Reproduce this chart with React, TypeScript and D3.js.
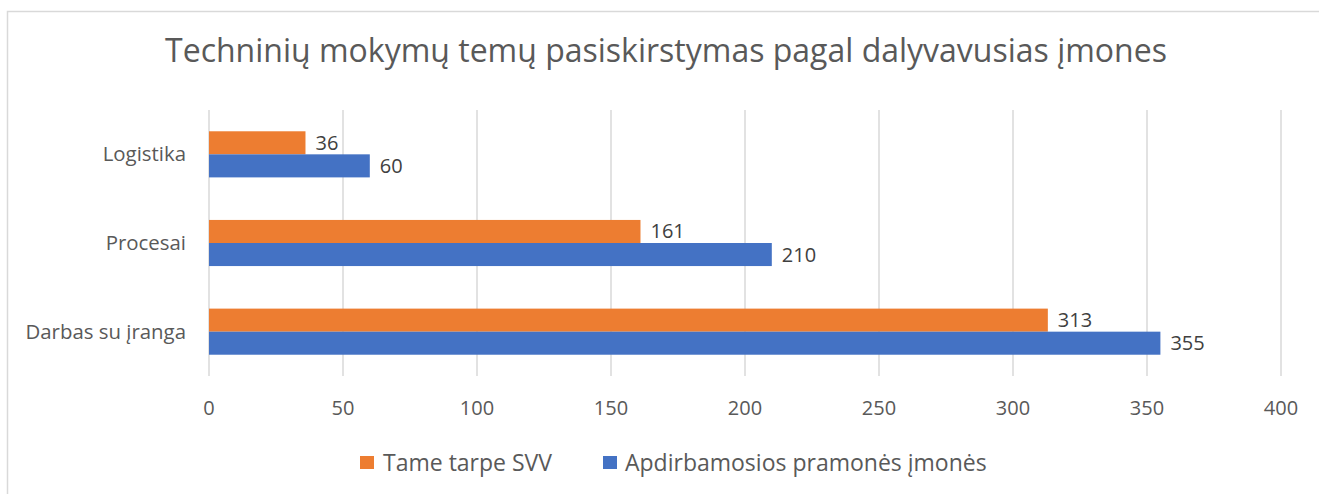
import * as d3 from 'd3';

const categories = ['Logistika', 'Procesai', 'Darbas su įranga'];
const svvValues = [36, 161, 313];
const pramoneValues = [60, 210, 355];
const seriesNames = ['Tame tarpe SVV', 'Apdirbamosios pramonės įmonės'];
const xTicks = [0, 50, 100, 150, 200, 250, 300, 350, 400];

const W = 1319;
const H = 494;
const ORANGE = '#ED7D31';
const BLUE = '#4472C4';
const TEXT = '#595959';
const GRID = '#D9D9D9';
const FONT = '"Open Sans", sans-serif';

export default function App() {
  const plot = { left: 209, right: 1281, top: 110, bottom: 376 };

  const x = d3.scaleLinear().domain([0, 400]).range([plot.left, plot.right]);
  const y = d3.scaleBand().domain(categories).range([plot.top, plot.bottom]).paddingInner(0.48).paddingOuter(0.24);
  const sub = d3.scaleBand().domain(['svv', 'pram']).range([0, y.bandwidth()]);

  const rows = categories.map((c, i) => ({ c, svv: svvValues[i], pram: pramoneValues[i] }));

  return (
    <svg width={W} height={H} style={{ position: 'absolute', left: 0, top: 0, background: '#fff' }}>
      {/* chart border */}
      <path d={`M7.5,${H} V11.5 H${W}`} fill="none" stroke={GRID} strokeWidth={1.5} />

      <text x={666} y={62} textAnchor="middle" fill={TEXT} fontSize={32} fontFamily={FONT}>
        Techninių mokymų temų pasiskirstymas pagal dalyvavusias įmones
      </text>

      {/* grid */}
      {xTicks.map((t) => (
        <line key={t} x1={x(t)} x2={x(t)} y1={plot.top} y2={plot.bottom} stroke={GRID} strokeWidth={1.5} />
      ))}

      {/* bars */}
      {rows.map((r) => {
        const y0 = y(r.c) as number;
        return (
          <g key={r.c}>
            <rect x={x(0)} y={y0 + (sub('svv') as number)} width={x(r.svv) - x(0)} height={sub.bandwidth()} fill={ORANGE} />
            <rect x={x(0)} y={y0 + (sub('pram') as number)} width={x(r.pram) - x(0)} height={sub.bandwidth()} fill={BLUE} />
            <text x={x(r.svv) + 10} y={y0 + (sub('svv') as number) + sub.bandwidth() / 2} dy="0.35em" fill="#404040" fontSize={20} fontFamily={FONT}>
              {r.svv}
            </text>
            <text x={x(r.pram) + 10} y={y0 + (sub('pram') as number) + sub.bandwidth() / 2} dy="0.35em" fill="#404040" fontSize={20} fontFamily={FONT}>
              {r.pram}
            </text>
            <text x={186} y={y0 + y.bandwidth() / 2} dy="0.35em" textAnchor="end" fill={TEXT} fontSize={20.4} fontFamily={FONT}>
              {r.c}
            </text>
          </g>
        );
      })}

      {/* x axis labels */}
      {xTicks.map((t) => (
        <text key={t} x={x(t)} y={408} dy="0.35em" textAnchor="middle" fill={TEXT} fontSize={20} fontFamily={FONT}>
          {t}
        </text>
      ))}

      {/* legend */}
      <rect x={360} y={456} width={14} height={13} fill={ORANGE} />
      <text x={383} y={463} dy="0.35em" fill={TEXT} fontSize={23} fontFamily={FONT}>{seriesNames[0]}</text>
      <rect x={603} y={456} width={14} height={13} fill={BLUE} />
      <text x={625} y={463} dy="0.35em" fill={TEXT} fontSize={23} fontFamily={FONT}>{seriesNames[1]}</text>
    </svg>
  );
}
